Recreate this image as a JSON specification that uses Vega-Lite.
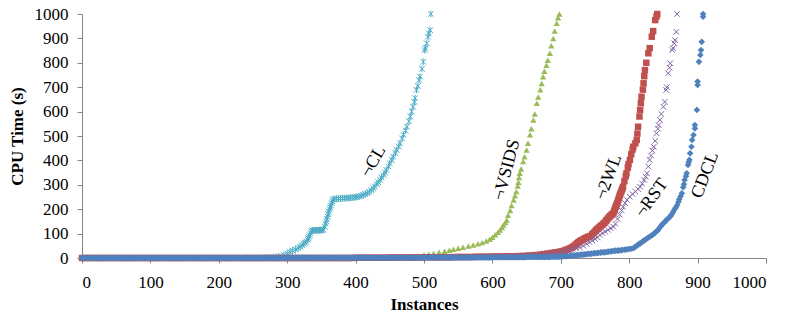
{
"$schema":"https://vega.github.io/schema/vega-lite/v6.json",
"width":684,"height":244,
"autosize":{"type":"none"},
"padding":{"left":82,"top":14,"right":20,"bottom":69},
"background":"white",
"config":{"view":{"stroke":null},"font":"Liberation Serif, Times New Roman, serif",
"axis":{"domainColor":"#868686","tickColor":"#868686","labelFont":"Liberation Serif, Times New Roman, serif","labelFontSize":17,"labelColor":"#000","titleFont":"Liberation Serif, Times New Roman, serif","titleFontSize":17,"titleFontWeight":"bold","titleColor":"#000","grid":false,"tickSize":5}},
"datasets":{
"cl":[{"x":100,"y":0},{"x":200,"y":0},{"x":240,"y":1},{"x":260,"y":1},{"x":270,"y":2},{"x":280,"y":4},{"x":288,"y":7},{"x":295,"y":12},{"x":300,"y":18},{"x":304,"y":26},{"x":308,"y":30},{"x":312,"y":35},{"x":316,"y":41},{"x":319,"y":46},{"x":322,"y":52},{"x":324,"y":58},{"x":326,"y":62},{"x":328,"y":67},{"x":330,"y":75},{"x":331,"y":80},{"x":332,"y":87},{"x":333,"y":94},{"x":334,"y":102},{"x":335,"y":110},{"x":337,"y":113},{"x":339,"y":113},{"x":341,"y":113},{"x":343,"y":113},{"x":345,"y":114},{"x":347,"y":114},{"x":349,"y":114},{"x":351,"y":115},{"x":353,"y":116},{"x":355,"y":128},{"x":356,"y":140},{"x":357,"y":150},{"x":358,"y":160},{"x":359,"y":170},{"x":360,"y":180},{"x":361,"y":190},{"x":362,"y":200},{"x":363,"y":208},{"x":364,"y":215},{"x":365,"y":225},{"x":366,"y":232},{"x":367,"y":240},{"x":369,"y":242},{"x":372,"y":243},{"x":375,"y":243},{"x":378,"y":244},{"x":381,"y":244},{"x":384,"y":245},{"x":387,"y":246},{"x":390,"y":246},{"x":393,"y":247},{"x":396,"y":248},{"x":399,"y":249},{"x":402,"y":250},{"x":405,"y":252},{"x":408,"y":255},{"x":411,"y":258},{"x":414,"y":262},{"x":417,"y":266},{"x":420,"y":271},{"x":423,"y":278},{"x":426,"y":286},{"x":428,"y":293},{"x":431,"y":303},{"x":433,"y":311},{"x":436,"y":320},{"x":438,"y":330},{"x":441,"y":340},{"x":443,"y":350},{"x":445,"y":361},{"x":448,"y":375},{"x":450,"y":388},{"x":453,"y":402},{"x":455,"y":415},{"x":458,"y":430},{"x":460,"y":443},{"x":463,"y":457},{"x":465,"y":470},{"x":468,"y":490},{"x":470,"y":505},{"x":473,"y":522},{"x":475,"y":538},{"x":478,"y":560},{"x":480,"y":580},{"x":482,"y":600},{"x":484,"y":620},{"x":486,"y":640},{"x":487,"y":655},{"x":489,"y":689},{"x":491,"y":705},{"x":493,"y":730},{"x":494,"y":743},{"x":497,"y":775},{"x":499,"y":804},{"x":501,"y":852},{"x":502,"y":860},{"x":504,"y":880},{"x":506,"y":907},{"x":507,"y":920},{"x":509,"y":934},{"x":510,"y":1000}],
"vsids":[{"x":300,"y":0},{"x":350,"y":0},{"x":400,"y":1},{"x":430,"y":2},{"x":450,"y":2},{"x":470,"y":3},{"x":480,"y":5},{"x":490,"y":8},{"x":500,"y":12},{"x":507,"y":15},{"x":514,"y":19},{"x":522,"y":24},{"x":530,"y":28},{"x":537,"y":32},{"x":543,"y":36},{"x":550,"y":40},{"x":557,"y":44},{"x":565,"y":49},{"x":572,"y":53},{"x":579,"y":58},{"x":585,"y":63},{"x":591,"y":70},{"x":596,"y":77},{"x":600,"y":85},{"x":604,"y":95},{"x":608,"y":105},{"x":611,"y":115},{"x":614,"y":125},{"x":616,"y":135},{"x":619,"y":145},{"x":621,"y":156},{"x":623,"y":175},{"x":626,"y":195},{"x":628,"y":215},{"x":631,"y":238},{"x":633,"y":255},{"x":635,"y":272},{"x":637,"y":295},{"x":638,"y":310},{"x":639,"y":330},{"x":640,"y":347},{"x":642,"y":365},{"x":645,"y":395},{"x":647,"y":415},{"x":650,"y":443},{"x":652,"y":470},{"x":655,"y":505},{"x":657,"y":530},{"x":660,"y":566},{"x":662,"y":590},{"x":665,"y":634},{"x":667,"y":660},{"x":670,"y":690},{"x":672,"y":715},{"x":674,"y":743},{"x":676,"y":765},{"x":679,"y":790},{"x":681,"y":810},{"x":684,"y":839},{"x":686,"y":870},{"x":689,"y":900},{"x":691,"y":930},{"x":694,"y":962},{"x":696,"y":985},{"x":698,"y":1000}],
"wl":[{"x":0,"y":0},{"x":5,"y":0},{"x":10,"y":0},{"x":15,"y":0},{"x":20,"y":0},{"x":25,"y":0},{"x":30,"y":0},{"x":35,"y":0},{"x":40,"y":0},{"x":45,"y":0},{"x":50,"y":0},{"x":55,"y":0},{"x":60,"y":0},{"x":65,"y":0},{"x":70,"y":0},{"x":75,"y":0},{"x":80,"y":0},{"x":85,"y":0},{"x":90,"y":0},{"x":95,"y":0},{"x":100,"y":0},{"x":105,"y":0},{"x":110,"y":0},{"x":115,"y":0},{"x":120,"y":0},{"x":125,"y":0},{"x":130,"y":0},{"x":135,"y":0},{"x":140,"y":0},{"x":145,"y":0},{"x":150,"y":0},{"x":155,"y":0},{"x":160,"y":0},{"x":165,"y":0},{"x":170,"y":0},{"x":175,"y":0},{"x":180,"y":0},{"x":185,"y":0},{"x":190,"y":0},{"x":195,"y":0},{"x":200,"y":0},{"x":205,"y":0},{"x":210,"y":0},{"x":215,"y":0},{"x":220,"y":0},{"x":225,"y":0},{"x":230,"y":0},{"x":235,"y":0},{"x":240,"y":0},{"x":245,"y":0},{"x":250,"y":0},{"x":255,"y":0},{"x":260,"y":0},{"x":265,"y":0},{"x":270,"y":0},{"x":275,"y":0},{"x":280,"y":0},{"x":285,"y":0},{"x":290,"y":0},{"x":295,"y":0},{"x":300,"y":0},{"x":305,"y":0},{"x":310,"y":0},{"x":315,"y":0},{"x":320,"y":0},{"x":325,"y":0},{"x":330,"y":0},{"x":335,"y":0},{"x":340,"y":0},{"x":345,"y":0},{"x":350,"y":0},{"x":355,"y":0},{"x":360,"y":0},{"x":365,"y":0},{"x":370,"y":0},{"x":375,"y":0},{"x":380,"y":0},{"x":385,"y":0},{"x":390,"y":0},{"x":395,"y":0},{"x":400,"y":1},{"x":405,"y":1},{"x":410,"y":1},{"x":415,"y":1},{"x":420,"y":1},{"x":425,"y":1},{"x":430,"y":1},{"x":435,"y":1},{"x":440,"y":1},{"x":445,"y":1},{"x":450,"y":2},{"x":455,"y":2},{"x":460,"y":2},{"x":465,"y":2},{"x":470,"y":2},{"x":475,"y":2},{"x":480,"y":2},{"x":485,"y":2},{"x":490,"y":2},{"x":495,"y":2},{"x":500,"y":3},{"x":505,"y":3},{"x":510,"y":3},{"x":515,"y":3},{"x":520,"y":3},{"x":525,"y":3},{"x":530,"y":3},{"x":535,"y":3},{"x":540,"y":3},{"x":545,"y":4},{"x":550,"y":4},{"x":555,"y":4},{"x":560,"y":4},{"x":565,"y":4},{"x":570,"y":4},{"x":575,"y":5},{"x":580,"y":5},{"x":585,"y":5},{"x":590,"y":5},{"x":595,"y":5},{"x":600,"y":6},{"x":605,"y":6},{"x":610,"y":6},{"x":615,"y":6},{"x":620,"y":7},{"x":625,"y":7},{"x":630,"y":7},{"x":635,"y":7},{"x":640,"y":8},{"x":645,"y":8},{"x":650,"y":9},{"x":655,"y":10},{"x":660,"y":11},{"x":665,"y":12},{"x":670,"y":14},{"x":675,"y":16},{"x":680,"y":18},{"x":685,"y":20},{"x":688,"y":21},{"x":692,"y":23},{"x":695,"y":24},{"x":699,"y":26},{"x":702,"y":28},{"x":705,"y":30},{"x":708,"y":33},{"x":710,"y":35},{"x":712,"y":37},{"x":714,"y":40},{"x":716,"y":43},{"x":718,"y":46},{"x":720,"y":50},{"x":722,"y":55},{"x":724,"y":60},{"x":726,"y":65},{"x":728,"y":69},{"x":730,"y":72},{"x":732,"y":75},{"x":734,"y":78},{"x":736,"y":81},{"x":738,"y":84},{"x":740,"y":87},{"x":743,"y":90},{"x":746,"y":97},{"x":748,"y":103},{"x":750,"y":109},{"x":752,"y":115},{"x":754,"y":120},{"x":756,"y":125},{"x":758,"y":130},{"x":760,"y":135},{"x":762,"y":140},{"x":764,"y":145},{"x":766,"y":151},{"x":767,"y":156},{"x":769,"y":162},{"x":771,"y":168},{"x":772,"y":172},{"x":774,"y":176},{"x":775,"y":180},{"x":777,"y":183},{"x":778,"y":192},{"x":779,"y":200},{"x":780,"y":208},{"x":781,"y":215},{"x":782,"y":222},{"x":783,"y":228},{"x":784,"y":238},{"x":785,"y":246},{"x":786,"y":255},{"x":787,"y":262},{"x":788,"y":270},{"x":789,"y":277},{"x":790,"y":284},{"x":791,"y":292},{"x":793,"y":315},{"x":795,"y":335},{"x":796,"y":347},{"x":798,"y":370},{"x":799,"y":385},{"x":801,"y":402},{"x":803,"y":425},{"x":805,"y":445},{"x":806,"y":456},{"x":809,"y":470},{"x":811,"y":484},{"x":812,"y":510},{"x":813,"y":538},{"x":815,"y":580},{"x":816,"y":607},{"x":817,"y":635},{"x":818,"y":661},{"x":820,"y":690},{"x":821,"y":716},{"x":822,"y":745},{"x":823,"y":770},{"x":825,"y":800},{"x":828,"y":839},{"x":830,"y":860},{"x":833,"y":907},{"x":835,"y":930},{"x":838,"y":975},{"x":840,"y":990},{"x":841,"y":1000}],
"rst":[{"x":300,"y":0},{"x":350,"y":0},{"x":400,"y":1},{"x":420,"y":1},{"x":440,"y":1},{"x":460,"y":2},{"x":480,"y":2},{"x":500,"y":3},{"x":520,"y":3},{"x":540,"y":4},{"x":560,"y":4},{"x":580,"y":5},{"x":600,"y":6},{"x":615,"y":7},{"x":630,"y":8},{"x":645,"y":10},{"x":655,"y":11},{"x":665,"y":12},{"x":672,"y":14},{"x":680,"y":16},{"x":687,"y":18},{"x":694,"y":21},{"x":700,"y":24},{"x":706,"y":28},{"x":712,"y":33},{"x":718,"y":37},{"x":723,"y":40},{"x":728,"y":43},{"x":733,"y":50},{"x":738,"y":58},{"x":742,"y":65},{"x":746,"y":72},{"x":750,"y":78},{"x":754,"y":84},{"x":757,"y":94},{"x":761,"y":102},{"x":765,"y":108},{"x":769,"y":115},{"x":773,"y":122},{"x":777,"y":128},{"x":780,"y":140},{"x":783,"y":160},{"x":786,"y":178},{"x":789,"y":195},{"x":791,"y":210},{"x":794,"y":225},{"x":797,"y":238},{"x":801,"y":251},{"x":805,"y":262},{"x":809,"y":272},{"x":813,"y":282},{"x":816,"y":292},{"x":819,"y":305},{"x":822,"y":320},{"x":824,"y":333},{"x":826,"y":347},{"x":828,"y":375},{"x":830,"y":402},{"x":832,"y":420},{"x":834,"y":440},{"x":836,"y":456},{"x":838,"y":480},{"x":840,"y":511},{"x":842,"y":530},{"x":843,"y":545},{"x":845,"y":566},{"x":847,"y":590},{"x":850,"y":620},{"x":852,"y":640},{"x":854,"y":689},{"x":855,"y":700},{"x":857,"y":757},{"x":859,"y":780},{"x":860,"y":798},{"x":863,"y":852},{"x":864,"y":860},{"x":866,"y":880},{"x":867,"y":893},{"x":869,"y":927},{"x":870,"y":1000}],
"cdcl":[{"x":0,"y":0},{"x":2,"y":0},{"x":4,"y":0},{"x":6,"y":0},{"x":8,"y":0},{"x":10,"y":0},{"x":12,"y":0},{"x":14,"y":0},{"x":16,"y":0},{"x":18,"y":0},{"x":20,"y":0},{"x":22,"y":0},{"x":24,"y":0},{"x":26,"y":0},{"x":28,"y":0},{"x":30,"y":0},{"x":32,"y":0},{"x":34,"y":0},{"x":36,"y":0},{"x":38,"y":0},{"x":40,"y":0},{"x":42,"y":0},{"x":44,"y":0},{"x":46,"y":0},{"x":48,"y":0},{"x":50,"y":0},{"x":52,"y":0},{"x":54,"y":0},{"x":56,"y":0},{"x":58,"y":0},{"x":60,"y":0},{"x":62,"y":0},{"x":64,"y":0},{"x":66,"y":0},{"x":68,"y":0},{"x":70,"y":0},{"x":72,"y":0},{"x":74,"y":0},{"x":76,"y":0},{"x":78,"y":0},{"x":80,"y":0},{"x":82,"y":0},{"x":84,"y":0},{"x":86,"y":0},{"x":88,"y":0},{"x":90,"y":0},{"x":92,"y":0},{"x":94,"y":0},{"x":96,"y":0},{"x":98,"y":0},{"x":100,"y":0},{"x":102,"y":0},{"x":104,"y":0},{"x":106,"y":0},{"x":108,"y":0},{"x":110,"y":0},{"x":112,"y":0},{"x":114,"y":0},{"x":116,"y":0},{"x":118,"y":0},{"x":120,"y":0},{"x":122,"y":0},{"x":124,"y":0},{"x":126,"y":0},{"x":128,"y":0},{"x":130,"y":0},{"x":132,"y":0},{"x":134,"y":0},{"x":136,"y":0},{"x":138,"y":0},{"x":140,"y":0},{"x":142,"y":0},{"x":144,"y":0},{"x":146,"y":0},{"x":148,"y":0},{"x":150,"y":0},{"x":152,"y":0},{"x":154,"y":0},{"x":156,"y":0},{"x":158,"y":0},{"x":160,"y":0},{"x":162,"y":0},{"x":164,"y":0},{"x":166,"y":0},{"x":168,"y":0},{"x":170,"y":0},{"x":172,"y":0},{"x":174,"y":0},{"x":176,"y":0},{"x":178,"y":0},{"x":180,"y":0},{"x":182,"y":0},{"x":184,"y":0},{"x":186,"y":0},{"x":188,"y":0},{"x":190,"y":0},{"x":192,"y":0},{"x":194,"y":0},{"x":196,"y":0},{"x":198,"y":0},{"x":200,"y":0},{"x":202,"y":0},{"x":204,"y":0},{"x":206,"y":0},{"x":208,"y":0},{"x":210,"y":0},{"x":212,"y":0},{"x":214,"y":0},{"x":216,"y":0},{"x":218,"y":0},{"x":220,"y":0},{"x":222,"y":0},{"x":224,"y":0},{"x":226,"y":0},{"x":228,"y":0},{"x":230,"y":0},{"x":232,"y":0},{"x":234,"y":0},{"x":236,"y":0},{"x":238,"y":0},{"x":240,"y":0},{"x":242,"y":0},{"x":244,"y":0},{"x":246,"y":0},{"x":248,"y":0},{"x":250,"y":0},{"x":252,"y":0},{"x":254,"y":0},{"x":256,"y":0},{"x":258,"y":0},{"x":260,"y":0},{"x":262,"y":0},{"x":264,"y":0},{"x":266,"y":0},{"x":268,"y":0},{"x":270,"y":0},{"x":272,"y":0},{"x":274,"y":0},{"x":276,"y":0},{"x":278,"y":0},{"x":280,"y":0},{"x":282,"y":0},{"x":284,"y":0},{"x":286,"y":0},{"x":288,"y":0},{"x":290,"y":0},{"x":292,"y":0},{"x":294,"y":0},{"x":296,"y":0},{"x":298,"y":0},{"x":300,"y":1},{"x":302,"y":1},{"x":304,"y":1},{"x":306,"y":1},{"x":308,"y":1},{"x":310,"y":1},{"x":312,"y":1},{"x":314,"y":1},{"x":316,"y":1},{"x":318,"y":1},{"x":320,"y":1},{"x":322,"y":1},{"x":324,"y":1},{"x":326,"y":1},{"x":328,"y":1},{"x":330,"y":1},{"x":332,"y":1},{"x":334,"y":1},{"x":336,"y":1},{"x":338,"y":1},{"x":340,"y":1},{"x":342,"y":1},{"x":344,"y":1},{"x":346,"y":1},{"x":348,"y":1},{"x":350,"y":1},{"x":352,"y":1},{"x":354,"y":1},{"x":356,"y":1},{"x":358,"y":1},{"x":360,"y":1},{"x":362,"y":1},{"x":364,"y":1},{"x":366,"y":1},{"x":368,"y":1},{"x":370,"y":1},{"x":372,"y":1},{"x":374,"y":1},{"x":376,"y":1},{"x":378,"y":1},{"x":380,"y":1},{"x":382,"y":1},{"x":384,"y":1},{"x":386,"y":1},{"x":388,"y":1},{"x":390,"y":1},{"x":392,"y":1},{"x":394,"y":1},{"x":396,"y":1},{"x":398,"y":1},{"x":400,"y":1},{"x":402,"y":1},{"x":404,"y":1},{"x":406,"y":1},{"x":408,"y":1},{"x":410,"y":1},{"x":412,"y":1},{"x":414,"y":1},{"x":416,"y":1},{"x":418,"y":1},{"x":420,"y":1},{"x":422,"y":1},{"x":424,"y":1},{"x":426,"y":1},{"x":428,"y":1},{"x":430,"y":1},{"x":432,"y":1},{"x":434,"y":1},{"x":436,"y":1},{"x":438,"y":1},{"x":440,"y":1},{"x":442,"y":1},{"x":444,"y":1},{"x":446,"y":1},{"x":448,"y":1},{"x":450,"y":1},{"x":452,"y":1},{"x":454,"y":1},{"x":456,"y":1},{"x":458,"y":1},{"x":460,"y":1},{"x":462,"y":1},{"x":464,"y":1},{"x":466,"y":1},{"x":468,"y":1},{"x":470,"y":1},{"x":472,"y":1},{"x":474,"y":1},{"x":476,"y":1},{"x":478,"y":1},{"x":480,"y":1},{"x":482,"y":1},{"x":484,"y":1},{"x":486,"y":1},{"x":488,"y":1},{"x":490,"y":1},{"x":492,"y":1},{"x":494,"y":1},{"x":496,"y":1},{"x":498,"y":1},{"x":500,"y":2},{"x":502,"y":2},{"x":504,"y":2},{"x":506,"y":2},{"x":508,"y":2},{"x":510,"y":2},{"x":512,"y":2},{"x":514,"y":2},{"x":516,"y":2},{"x":518,"y":2},{"x":520,"y":2},{"x":522,"y":2},{"x":524,"y":2},{"x":526,"y":2},{"x":528,"y":2},{"x":530,"y":2},{"x":532,"y":2},{"x":534,"y":2},{"x":536,"y":2},{"x":538,"y":2},{"x":540,"y":2},{"x":542,"y":2},{"x":544,"y":2},{"x":546,"y":2},{"x":548,"y":2},{"x":550,"y":2},{"x":552,"y":2},{"x":554,"y":2},{"x":556,"y":2},{"x":558,"y":2},{"x":560,"y":2},{"x":562,"y":2},{"x":564,"y":2},{"x":566,"y":2},{"x":568,"y":2},{"x":570,"y":2},{"x":572,"y":2},{"x":574,"y":2},{"x":576,"y":2},{"x":578,"y":2},{"x":580,"y":2},{"x":582,"y":2},{"x":584,"y":2},{"x":586,"y":2},{"x":588,"y":2},{"x":590,"y":2},{"x":592,"y":2},{"x":594,"y":2},{"x":596,"y":2},{"x":598,"y":2},{"x":600,"y":3},{"x":602,"y":3},{"x":604,"y":3},{"x":606,"y":3},{"x":608,"y":3},{"x":610,"y":3},{"x":612,"y":3},{"x":614,"y":3},{"x":616,"y":3},{"x":618,"y":3},{"x":620,"y":3},{"x":622,"y":3},{"x":624,"y":3},{"x":626,"y":3},{"x":628,"y":3},{"x":630,"y":3},{"x":632,"y":3},{"x":634,"y":3},{"x":636,"y":3},{"x":638,"y":3},{"x":640,"y":3},{"x":642,"y":3},{"x":644,"y":3},{"x":646,"y":3},{"x":648,"y":3},{"x":650,"y":4},{"x":652,"y":4},{"x":654,"y":4},{"x":656,"y":4},{"x":658,"y":4},{"x":660,"y":4},{"x":662,"y":4},{"x":664,"y":4},{"x":666,"y":4},{"x":668,"y":4},{"x":670,"y":4},{"x":672,"y":4},{"x":674,"y":4},{"x":676,"y":4},{"x":678,"y":4},{"x":680,"y":4},{"x":682,"y":4},{"x":684,"y":4},{"x":686,"y":5},{"x":688,"y":5},{"x":690,"y":5},{"x":692,"y":5},{"x":694,"y":5},{"x":696,"y":5},{"x":698,"y":5},{"x":700,"y":6},{"x":703,"y":6},{"x":705,"y":7},{"x":708,"y":7},{"x":710,"y":8},{"x":713,"y":8},{"x":715,"y":9},{"x":718,"y":10},{"x":720,"y":11},{"x":723,"y":11},{"x":725,"y":12},{"x":728,"y":13},{"x":730,"y":14},{"x":733,"y":14},{"x":735,"y":15},{"x":738,"y":16},{"x":740,"y":17},{"x":743,"y":17},{"x":745,"y":18},{"x":748,"y":19},{"x":750,"y":20},{"x":753,"y":20},{"x":755,"y":21},{"x":758,"y":22},{"x":760,"y":23},{"x":763,"y":23},{"x":765,"y":24},{"x":768,"y":25},{"x":770,"y":26},{"x":773,"y":27},{"x":775,"y":28},{"x":778,"y":29},{"x":780,"y":30},{"x":783,"y":30},{"x":785,"y":31},{"x":788,"y":32},{"x":790,"y":33},{"x":793,"y":34},{"x":795,"y":35},{"x":798,"y":36},{"x":800,"y":37},{"x":803,"y":38},{"x":806,"y":40},{"x":808,"y":44},{"x":810,"y":48},{"x":812,"y":52},{"x":814,"y":57},{"x":816,"y":60},{"x":818,"y":64},{"x":820,"y":68},{"x":822,"y":72},{"x":824,"y":76},{"x":826,"y":80},{"x":828,"y":84},{"x":830,"y":87},{"x":832,"y":91},{"x":834,"y":95},{"x":836,"y":99},{"x":838,"y":104},{"x":840,"y":110},{"x":842,"y":114},{"x":844,"y":122},{"x":846,"y":130},{"x":848,"y":137},{"x":850,"y":142},{"x":852,"y":148},{"x":854,"y":154},{"x":856,"y":160},{"x":858,"y":165},{"x":860,"y":170},{"x":862,"y":178},{"x":864,"y":188},{"x":866,"y":198},{"x":868,"y":206},{"x":870,"y":216},{"x":872,"y":230},{"x":873,"y":240},{"x":875,"y":252},{"x":877,"y":265},{"x":879,"y":290},{"x":880,"y":302},{"x":881,"y":320},{"x":883,"y":335},{"x":884,"y":347},{"x":886,"y":381},{"x":887,"y":392},{"x":888,"y":402},{"x":889,"y":429},{"x":891,"y":456},{"x":892,"y":484},{"x":894,"y":504},{"x":896,"y":531},{"x":896,"y":545},{"x":899,"y":607},{"x":900,"y":709},{"x":900,"y":723},{"x":902,"y":804},{"x":904,"y":832},{"x":905,"y":852},{"x":906,"y":886},{"x":908,"y":989},{"x":908,"y":1000}],
"labels":[{"label":"¬CL","x":426,"y":395},{"label":"¬VSIDS","x":621,"y":361},{"label":"¬2WL","x":770,"y":331},{"label":"¬RST","x":833,"y":245},{"label":"CDCL","x":911,"y":340}]
},
"encoding":{
"x":{"field":"x","type":"quantitative","title":"Instances","scale":{"domain":[0,1000],"nice":false},"axis":{"values":[0,100,200,300,400,500,600,700,800,900,1000],"format":"d","labelPadding":11,"titlePadding":6}},
"y":{"field":"y","type":"quantitative","title":"CPU Time (s)","scale":{"domain":[0,1000],"nice":false},"axis":{"values":[0,100,200,300,400,500,600,700,800,900,1000],"format":"d","labelPadding":9,"titlePadding":8}}
},
"layer":[
{"data":{"name":"cl"},"mark":{"type":"point","shape":"M-1,-1L1,1M1,-1L-1,1M0,-1.2L0,1.2","filled":false,"size":32,"strokeWidth":1,"color":"#4BACC6","opacity":1}},
{"data":{"name":"vsids"},"mark":{"type":"point","shape":"triangle-up","filled":true,"size":40,"color":"#9BBB59","opacity":1}},
{"data":{"name":"wl"},"mark":{"type":"point","shape":"square","filled":true,"size":42,"color":"#C0504D","opacity":1}},
{"data":{"name":"rst"},"mark":{"type":"point","shape":"M-1,-1L1,1M1,-1L-1,1","filled":false,"size":30,"strokeWidth":1,"color":"#8064A2","opacity":1}},
{"data":{"name":"cdcl"},"mark":{"type":"point","shape":"diamond","filled":true,"size":44,"color":"#4F81BD","opacity":1}},
{"data":{"name":"labels"},"transform":[{"filter":"datum.label==='¬CL'"}],"mark":{"type":"text","angle":-60,"font":"Liberation Serif, Times New Roman, serif","fontSize":18,"align":"center","baseline":"middle","color":"#000"},"encoding":{"text":{"field":"label"}}},
{"data":{"name":"labels"},"transform":[{"filter":"datum.label==='¬VSIDS'"}],"mark":{"type":"text","angle":-75,"font":"Liberation Serif, Times New Roman, serif","fontSize":18,"align":"center","baseline":"middle","color":"#000"},"encoding":{"text":{"field":"label"}}},
{"data":{"name":"labels"},"transform":[{"filter":"datum.label==='¬2WL'"}],"mark":{"type":"text","angle":-70,"font":"Liberation Serif, Times New Roman, serif","fontSize":18,"align":"center","baseline":"middle","color":"#000"},"encoding":{"text":{"field":"label"}}},
{"data":{"name":"labels"},"transform":[{"filter":"datum.label==='¬RST'"}],"mark":{"type":"text","angle":-54,"font":"Liberation Serif, Times New Roman, serif","fontSize":18,"align":"center","baseline":"middle","color":"#000"},"encoding":{"text":{"field":"label"}}},
{"data":{"name":"labels"},"transform":[{"filter":"datum.label==='CDCL'"}],"mark":{"type":"text","angle":-69,"font":"Liberation Serif, Times New Roman, serif","fontSize":18,"align":"center","baseline":"middle","color":"#000"},"encoding":{"text":{"field":"label"}}}
]
}
